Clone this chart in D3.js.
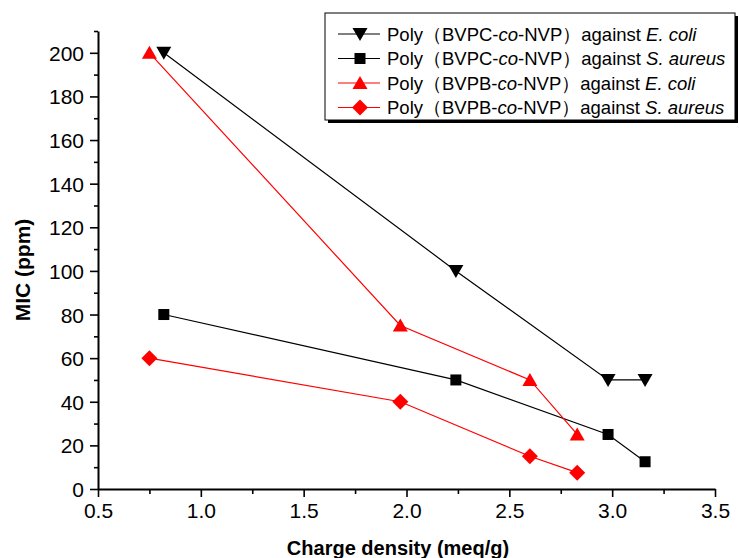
<!DOCTYPE html>
<html>
<head>
<meta charset="utf-8">
<script src="https://cdn.jsdelivr.net/npm/d3@7"></script>
<style>
  body { margin: 0; background: #fff; }
  text { font-family: "Liberation Sans", Arial, sans-serif; }
</style>
</head>
<body>
<div id="chart"></div>
<script>
// data
var bvpcX = [0.82, 2.24, 2.98, 3.16];
var bvpbX = [0.75, 1.97, 2.60, 2.83];
var bvpcEcoli = [200, 100, 50, 50];
var bvpcSaureus = [80, 50, 25, 12.5];
var bvpbEcoli = [200, 75, 50, 25];
var bvpbSaureus = [60, 40, 15, 7.5];
var xTicks = [0.5, 1.0, 1.5, 2.0, 2.5, 3.0, 3.5];
var yTicks = [0, 20, 40, 60, 80, 100, 120, 140, 160, 180, 200];

var series = [
	{ poly: "BVPC", bug: "E. coli", x: bvpcX, y: bvpcEcoli, color: "#000", symbol: "down" },
	{ poly: "BVPC", bug: "S. aureus", x: bvpcX, y: bvpcSaureus, color: "#000", symbol: "square" },
	{ poly: "BVPB", bug: "E. coli", x: bvpbX, y: bvpbEcoli, color: "#ff0000", symbol: "up" },
	{ poly: "BVPB", bug: "S. aureus", x: bvpbX, y: bvpbSaureus, color: "#ff0000", symbol: "diamond" }
];

var svg = d3.select("#chart").append("svg")
	.attr("width", 739)
	.attr("height", 558);

var x = d3.scaleLinear().domain([0.5, 3.5]).range([98, 715]);
var y = d3.scaleLinear().domain([0, 210]).range([489, 31]);

// minor ticks first, then major ticks with labels
svg.append("g")
	.attr("transform", "translate(0,489)")
	.call(d3.axisBottom(x).tickValues(d3.range(0.75, 3.5, 0.5)).tickSize(5).tickFormat(""))
	.call(function(g) { g.select(".domain").remove(); });

svg.append("g")
	.attr("transform", "translate(98,0)")
	.call(d3.axisLeft(y).tickValues(d3.range(10, 211, 20)).tickSize(4).tickFormat(""))
	.call(function(g) { g.select(".domain").remove(); });

var xAxis = svg.append("g")
	.attr("transform", "translate(0,489)")
	.call(d3.axisBottom(x).tickValues(xTicks).tickSize(8).tickSizeOuter(0).tickPadding(6).tickFormat(d3.format(".1f")));

var yAxis = svg.append("g")
	.attr("transform", "translate(98,0)")
	.call(d3.axisLeft(y).tickValues(yTicks).tickSize(8).tickSizeOuter(0).tickPadding(6));

svg.selectAll(".tick line").attr("stroke", "#000").attr("stroke-width", 1.6);
svg.selectAll(".domain").attr("stroke", "#000").attr("stroke-width", 2);
xAxis.selectAll("text").attr("font-size", 21).attr("fill", "#000");
yAxis.selectAll("text").attr("font-size", 21).attr("fill", "#000").attr("dy", "0.36em");

// axis titles
svg.append("text")
	.attr("x", 398)
	.attr("y", 555)
	.attr("text-anchor", "middle")
	.attr("font-size", 20)
	.attr("font-weight", "bold")
	.text("Charge density (meq/g)");

svg.append("text")
	.attr("transform", "translate(30,270) rotate(-90)")
	.attr("text-anchor", "middle")
	.attr("font-size", 21)
	.attr("font-weight", "bold")
	.text("MIC (ppm)");

function drawSymbol(g, type, color) {
	if (type == "square") {
		g.append("rect").attr("x", -5.5).attr("y", -5.5).attr("width", 11).attr("height", 11).attr("fill", color);
	} else if (type == "down") {
		g.append("path").attr("d", "M-7.5,-6 L7.5,-6 L0,7 Z").attr("fill", color);
	} else if (type == "up") {
		g.append("path").attr("d", "M-7.5,6 L7.5,6 L0,-7 Z").attr("fill", color);
	} else {
		g.append("path").attr("d", "M0,-8 L8,0 L0,8 L-8,0 Z").attr("fill", color);
	}
}

var line = d3.line()
	.x(function(d) { return x(d[0]); })
	.y(function(d) { return y(d[1]); });

series.forEach(function(s) {
	var pts = s.x.map(function(v, i) { return [v, s.y[i]]; });
	svg.append("path")
		.datum(pts)
		.attr("d", line)
		.attr("fill", "none")
		.attr("stroke", s.color)
		.attr("stroke-width", 1.2);
	pts.forEach(function(p) {
		var g = svg.append("g").attr("transform", "translate(" + x(p[0]) + "," + y(p[1]) + ")");
		drawSymbol(g, s.symbol, s.color);
	});
});

// legend with shadow
var legend = svg.append("g");
legend.append("rect")
	.attr("x", 328).attr("y", 16).attr("width", 410).attr("height", 107)
	.attr("fill", "#000");
legend.append("rect")
	.attr("x", 325).attr("y", 13).attr("width", 410).attr("height", 107)
	.attr("fill", "#fff").attr("stroke", "#000").attr("stroke-width", 1);

series.forEach(function(s, i) {
	var ly = 34 + i * 24.5;
	legend.append("line")
		.attr("x1", 338).attr("x2", 380).attr("y1", ly).attr("y2", ly)
		.attr("stroke", s.color).attr("stroke-width", 1.2);
	drawSymbol(legend.append("g").attr("transform", "translate(360," + ly + ")"), s.symbol, s.color);
	var t = legend.append("text")
		.attr("x", 387).attr("y", ly + 6.5)
		.attr("font-size", 18.5).attr("fill", "#000");
	t.append("tspan").text("Poly\uff08" + s.poly + "-");
	t.append("tspan").attr("font-style", "italic").text("co");
	t.append("tspan").text("-NVP\uff09against ");
	t.append("tspan").attr("font-style", "italic").text(s.bug);
});
</script>
</body>
</html>
